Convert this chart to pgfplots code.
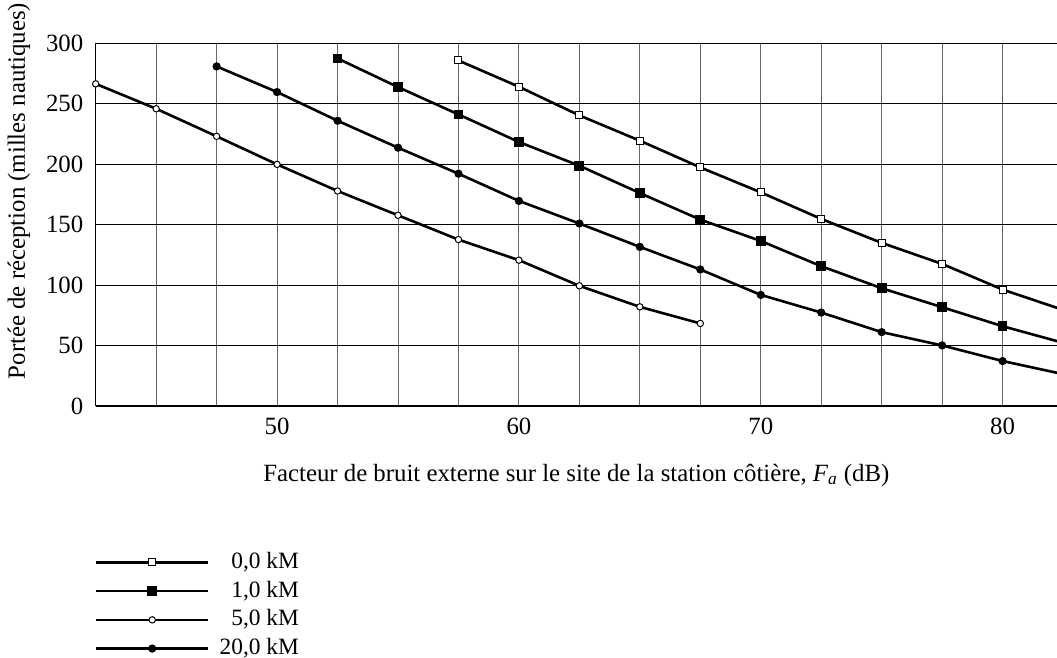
\documentclass[border=0pt]{standalone}
\usepackage{fontspec}
\setmainfont{Liberation Serif}
\usepackage{pgfplots}
\pgfplotsset{compat=1.18}

\pgfplotstableread{
x    y
42.5 266.4
45   245.8
47.5 223.0
50   199.8
52.5 177.8
55   157.7
57.5 137.6
60   120.6
62.5 99.4
65   82.0
67.5 68.3
}\kmfive
\pgfplotstableread{
x    y
47.5 280.8
50   259.6
52.5 235.9
55   213.6
57.5 192.1
60   169.6
62.5 150.9
65   131.6
67.5 112.9
70   91.9
72.5 77.3
75   61.1
77.5 50.1
80   37.2
82.5 26.4
}\kmtwenty

\begin{document}
\begin{tikzpicture}[font=\fontsize{12.4}{14.5}\selectfont]
\begin{axis}[
    scale only axis,
    width=480.6pt, height=181.4pt,
    xmin=42.5, xmax=82.25,
    ymin=0, ymax=300,
    axis lines=left,
    axis line style={-, line width=0.6pt},
    xtick={50,60,70,80},
    minor xtick={45,47.5,52.5,55,57.5,62.5,65,67.5,72.5,75,77.5,82.5},
    ytick={0,50,...,300},
    major tick length=0pt, minor tick length=0pt,
    xmajorgrids, xminorgrids, ymajorgrids,
    x grid style={gray!80!black, line width=0.5pt},
    minor x grid style={gray!80!black, line width=0.5pt},
    y grid style={black, line width=0.5pt},
    /pgf/number format/assume math mode=true,
    tick label style={font=\fontsize{12.4}{14.5}\selectfont},
    label style={font=\fontsize{12.4}{14.5}\selectfont},
    yticklabel style={xshift=-2.7pt},
    xticklabel style={yshift=-2.6pt},
    xlabel={Facteur de bruit externe sur le site de la station côtière, \textit{F\textsubscript{a}} (dB)},
    ylabel={Portée de réception (milles nautiques)},
    xlabel style={at={(axis description cs:0.5,0)}, anchor=center, yshift=-34.5pt},
    ylabel style={at={(axis description cs:-0.0798,0.5926)}, anchor=center},
    legend cell align=right,
    legend style={draw=none, fill=none, inner sep=0pt,
        font=\fontsize{11.7}{14}\selectfont,
        at={(axis description cs:0,0)}, anchor=north west,
        xshift=-0.7pt, yshift=-72.5pt, row sep=3.35pt,
        nodes={inner sep=0pt, text height=8.5pt, text depth=2.5pt},
        /tikz/every odd column/.append style={column sep=5pt}},
    legend image code/.code={
        \draw[mark repeat=2, mark phase=2, #1]
            plot coordinates {(0pt,0pt) (28.1pt,0pt) (56.2pt,0pt)};},
]
% 0,0 kM
\addplot[black, line width=1.3pt, mark=square*, mark size=1.75pt,
    mark options={fill=white, line width=0.5pt}]
coordinates {
    (57.5,285.7) (60,264.0) (62.5,240.3) (65,219.4) (67.5,197.3) (70,176.7)
    (72.5,154.7) (75,134.9) (77.5,117.5) (80,96.3) (82.5,79.5)
};
\addlegendentry{0,0 kM}
% 1,0 kM
\addplot[black, line width=1.3pt, mark=square*, mark size=2.2pt,
    mark options={fill=black, line width=0.5pt}]
coordinates {
    (52.5,287.4) (55,263.7) (57.5,241.1) (60,218.3) (62.5,198.7) (65,176.1)
    (67.5,154.1) (70,136.5) (72.5,115.6) (75,97.4) (77.5,81.7) (80,66.0) (82.5,52.3)
};
\addlegendentry{1,0 kM}
% 5,0 kM : line, then its marks
\addplot[black, line width=1.3pt, no marks,
    legend image code/.code={
        \draw[black, line width=1.3pt] (0pt,0pt) -- (56.2pt,0pt);
        \draw[black, mark=*, mark size=1.6pt, mark options={fill=white, line width=0.5pt}]
            plot coordinates {(28.1pt,0pt)};}]
    table[x=x, y=y] {\kmfive};
\addlegendentry{5,0 kM}
\addplot[black, only marks, mark=*, mark size=1.6pt,
    mark options={fill=white, line width=0.5pt}, forget plot]
    table[x=x, y=y] {\kmfive};
% 20,0 kM : line, then its marks
\addplot[black, line width=1.3pt, no marks,
    legend image code/.code={
        \draw[black, line width=1.3pt] (0pt,0pt) -- (56.2pt,0pt);
        \draw[black, mark=*, mark size=1.8pt, mark options={fill=black, line width=0.5pt}]
            plot coordinates {(28.1pt,0pt)};}]
    table[x=x, y=y] {\kmtwenty};
\addlegendentry{20,0 kM}
\addplot[black, only marks, mark=*, mark size=1.8pt,
    mark options={fill=black, line width=0.5pt}, forget plot]
    table[x=x, y=y] {\kmtwenty};
\end{axis}
\pgfresetboundingbox
\path[use as bounding box] (-47.85pt,-125.5pt) rectangle (480.6pt,203pt);
\end{tikzpicture}
\end{document}
